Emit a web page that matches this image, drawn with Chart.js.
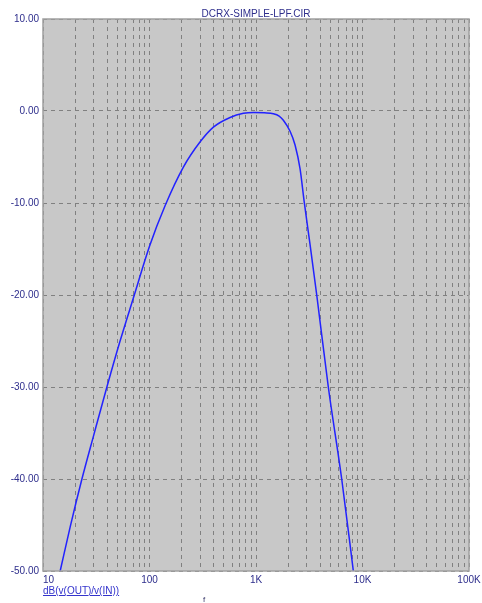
<!DOCTYPE html>
<html>
<head>
<meta charset="utf-8">
<script src="https://cdn.jsdelivr.net/npm/chart.js@4"></script>
<style>
  body { margin: 0; background: #fff; }
  #wrap { position: relative; width: 482px; height: 603px; }
  #legend {
    position: absolute; left: 43px; top: 585px;
    font: 10px "Liberation Sans", Arial, sans-serif; color: #3333cc;
    text-decoration: underline;
  }
  #flabel {
    position: absolute; left: 203px; top: 595px;
    font: 8px "Liberation Sans", Arial, sans-serif; color: #333366;
  }
</style>
</head>
<body>
<div id="wrap">
  <canvas id="bode" width="482" height="603"></canvas>
  <div id="legend">dB(v(OUT)/v(IN))</div>
  <div id="flabel">f</div>
</div>
<script>
const chartTitle = "DCRX-SIMPLE-LPF.CIR";

// frequency (Hz) and gain (dB)
const freqs = [14.5, 18, 23.2, 30, 39.8, 52, 72, 100, 140, 208, 299, 398, 571, 762, 950,
  1200, 1456, 1650, 1807, 2089, 2327, 2593, 2830, 3216, 3718, 4775, 6380, 8203];
const gainDb = [-50, -45.2, -40, -35.2, -30, -25.3, -20, -14.7, -10.3, -6.1, -3.35, -1.75, -0.7, -0.25, -0.15,
  -0.2, -0.3, -0.55, -1.0, -2.2, -3.7, -6.3, -9.8, -14.5, -20, -30, -40, -50];

const xTickValues = [10, 100, 1000, 10000, 100000];
const xTickLabels = ["10", "100", "1K", "10K", "100K"];

const textColor = "#2e2e8c";
const font = { family: "'Liberation Sans', Arial, sans-serif", size: 10 };

// gray plot background, frame and title
const plotFrame = {
  id: "plotFrame",
  beforeDraw(chart) {
    const { ctx, chartArea: a } = chart;
    ctx.save();
    ctx.fillStyle = "#c8c8c8";
    ctx.fillRect(a.left, a.top, a.right - a.left, a.bottom - a.top);
    ctx.restore();
  },
  afterDraw(chart) {
    const { ctx, chartArea: a } = chart;
    ctx.save();
    ctx.strokeStyle = "#a0a0a0";
    ctx.lineWidth = 1.5;
    ctx.strokeRect(a.left, a.top, a.right - a.left, a.bottom - a.top);
    ctx.fillStyle = textColor;
    ctx.font = "10px 'Liberation Sans', Arial, sans-serif";
    ctx.textAlign = "center";
    ctx.textBaseline = "middle";
    ctx.fillText(chartTitle, (a.left + a.right) / 2, 14);
    ctx.restore();
  }
};

new Chart(document.getElementById("bode"), {
  type: "line",
  data: {
    datasets: [{
      data: freqs.map((f, i) => ({ x: f, y: gainDb[i] })),
      borderColor: "#2222ff",
      borderWidth: 1.5,
      pointRadius: 0,
      cubicInterpolationMode: "monotone",
      fill: false
    }]
  },
  options: {
    responsive: false,
    animation: false,
    layout: { padding: { top: 19, right: 13, left: 0, bottom: 0 } },
    plugins: { legend: { display: false }, tooltip: { enabled: false } },
    scales: {
      x: {
        type: "logarithmic",
        min: 10,
        max: 100000,
        afterBuildTicks(scale) {
          const ticks = [];
          for (let d = 10; d <= 10000; d *= 10) {
            for (let m = 1; m < 10; m++) ticks.push({ value: d * m });
          }
          ticks.push({ value: 100000 });
          scale.ticks = ticks;
        },
        afterFit(scale) {
          scale.height = 32;
          scale.paddingLeft = 0;
          scale.paddingRight = 0;
        },
        ticks: {
          autoSkip: false,
          maxRotation: 0,
          padding: 3,
          color: textColor,
          font,
          callback(v) {
            const i = xTickValues.indexOf(v);
            if (i < 0) return "";
            // first label sits just right of the axis start
            return i === 0 ? "    " + xTickLabels[i] : xTickLabels[i];
          }
        },
        grid: { color: "#808080", lineWidth: 1, drawTicks: false },
        border: { display: false, dash: [4, 4] }
      },
      y: {
        min: -50,
        max: 10,
        afterFit(scale) { scale.width = 43; },
        ticks: {
          stepSize: 10,
          padding: 4,
          color: textColor,
          font,
          callback: v => v.toFixed(2)
        },
        grid: { color: "#808080", lineWidth: 1, drawTicks: false },
        border: { display: false, dash: [4, 4] }
      }
    }
  },
  plugins: [plotFrame]
});
</script>
</body>
</html>
